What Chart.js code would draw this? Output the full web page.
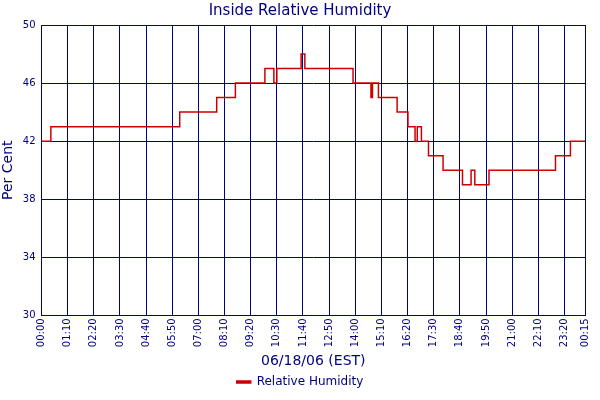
<!DOCTYPE html>
<html><head><meta charset="utf-8">
<script src="https://cdn.jsdelivr.net/npm/chart.js@4"></script>
<style>html,body{margin:0;padding:0;background:#fff}#w{width:600px;height:400px}</style>
</head><body><div id="w"><canvas id="c" width="600" height="400"></canvas></div>
<script>
// minutes after 00:00 when each value begins
const times = [0,25,370,469,519,598,622,630,695,705,834,882,886,902,952,981,1000,1006,1017,1036,1075,1127,1150,1160,1198,1376,1416,1455];
const humidity = [42,43,44,45,46,47,46,47,48,47,46,45,46,45,44,43,42,43,42,41,40,39,40,39,40,41,42,42];
const tickMinutes = [0,70,140,210,280,350,420,490,560,630,700,770,840,910,980,1050,1120,1190,1260,1330,1400,1455];
const tickLabels = ["00:00","01:10","02:20","03:30","04:40","05:50","07:00","08:10","09:20","10:30","11:40","12:50","14:00","15:10","16:20","17:30","18:40","19:50","21:00","22:10","23:20","00:15"];
const yTicks = [30,34,38,42,46,50];
const navy = '#000080';
Chart.defaults.font.family = 'DejaVu Sans';
Chart.defaults.color = navy;
new Chart(document.getElementById('c'), {
  type: 'line',
  data: { datasets: [{ label: 'Relative Humidity', data: times.map((t,i)=>({x:t,y:humidity[i]})),
    borderColor: '#cc0000', backgroundColor: '#cc0000', borderWidth: 1.5, pointRadius: 0, stepped: 'before' }] },
  options: {
    responsive: false, animation: false,
    layout: { padding: { left: 0, right: 0, top: 2, bottom: 2 } },
    plugins: {
      title: { display: true, text: 'Inside Relative Humidity', color: navy, font: { size: 15, weight: 'normal' }, padding: { top: 0, bottom: 5 } },
      legend: { position: 'bottom', labels: { color: navy, font: { size: 12 }, boxWidth: 14, boxHeight: 2, padding: 4 } }
    },
    scales: {
      x: { type: 'linear', min: 0, max: 1455,
        afterBuildTicks: a => { a.ticks = tickMinutes.map(v=>({value:v})); },
        ticks: { autoSkip: false, maxRotation: 90, minRotation: 90, font: { size: 10 }, color: navy, padding: 3,
          callback: (v) => { const i = tickMinutes.indexOf(v); return i >= 0 ? tickLabels[i] : ''; } },
        grid: { color: navy, lineWidth: 1, drawTicks: false },
        border: { color: navy },
        title: { display: true, text: '06/18/06 (EST)', color: navy, font: { size: 14 }, padding: { top: 3, bottom: 2 } } },
      y: { min: 30, max: 50,
        afterBuildTicks: a => { a.ticks = yTicks.map(v=>({value:v})); },
        ticks: { font: { size: 10 }, color: navy, padding: 6 },
        grid: { color: navy, lineWidth: 1, drawTicks: false },
        border: { color: navy },
        title: { display: true, text: 'Per Cent', color: navy, font: { size: 14 }, padding: { top: 0, bottom: 0 } } }
    }
  }
});
</script></body></html>
